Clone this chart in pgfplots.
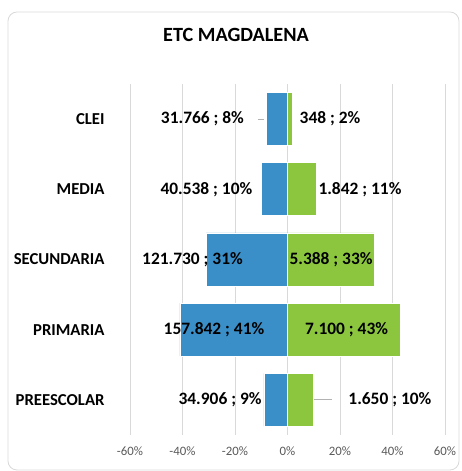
\documentclass[border=0pt]{standalone}
\usepackage{fontspec}
\setmainfont{Carlito}
\usepackage{pgfplots}
\pgfplotsset{compat=1.18}
\definecolor{cblue}{RGB}{58,143,201}
\definecolor{cgreen}{RGB}{140,198,63}
\definecolor{cgrid}{RGB}{217,217,217}
\definecolor{ctick}{RGB}{89,89,89}
\begin{document}
\begin{tikzpicture}[x=1bp,y=1bp]
\path (0,0) rectangle (462,471);
\draw[cgrid, line width=0.8bp, rounded corners=9bp] (8,1) rectangle (459,459);
\node[font=\fontsize{20.2bp}{24bp}\selectfont\bfseries] at (236,436) {ETC MAGDALENA};
\begin{axis}[
  at={(130bp,36bp)}, anchor=south west,
  scale only axis, width=315bp, height=351bp,
  xmin=-60, xmax=60, ymin=-0.5, ymax=4.5,
  xbar, bar shift=0pt, bar width=53bp,
  xtick={-60,-40,-20,0,20,40,60},
  xticklabels={-60\%,-40\%,-20\%,0\%,20\%,40\%,60\%},
  ytick={0,1,2,3,4},
  yticklabels={PREESCOLAR,PRIMARIA,SECUNDARIA,MEDIA,CLEI},
  /pgf/number format/assume math mode=true,
  xmajorgrids, major grid style={cgrid, line width=0.8bp},
  axis line style={draw=none},
  tick style={draw=none},
  xticklabel style={font=\fontsize{12.8bp}{15bp}\selectfont, text=ctick, inner sep=0pt, anchor=north},
  xticklabel shift=12bp,
  yticklabel style={font=\fontsize{16.7bp}{20bp}\selectfont\bfseries, inner sep=0pt, anchor=east},
  yticklabel shift=21bp,
  clip=false,
]
\addplot[fill=cblue, draw=white, line width=0.6bp] coordinates {(-9,0) (-41,1) (-31,2) (-10,3) (-8,4)};
\addplot[fill=cgreen, draw=white, line width=0.6bp] coordinates {(10,0) (43,1) (33,2) (11,3) (2,4)};
\draw[gray!60, line width=0.8bp] (axis cs:-11.4,4) -- (axis cs:-8.8,4);
\draw[gray!60, line width=0.8bp] (axis cs:9.9,0) -- (axis cs:16.8,0);
\begin{scope}[every node/.style={font=\fontsize{17.4bp}{20bp}\selectfont\bfseries, inner sep=0pt}]
\node at (axis cs:-32.4,4) {31.766 ; 8\%};
\node at (axis cs:-30.9,3) {40.538 ; 10\%};
\node at (axis cs:-36.2,2) {121.730 ; 31\%};
\node at (axis cs:-28,1) {157.842 ; 41\%};
\node at (axis cs:-25.7,0) {34.906 ; 9\%};
\node at (axis cs:16.2,4) {348 ; 2\%};
\node at (axis cs:27.6,3) {1.842 ; 11\%};
\node at (axis cs:16.6,2) {5.388 ; 33\%};
\node at (axis cs:22.5,1) {7.100 ; 43\%};
\node at (axis cs:39,0) {1.650 ; 10\%};
\end{scope}
\end{axis}
\end{tikzpicture}
\end{document}
